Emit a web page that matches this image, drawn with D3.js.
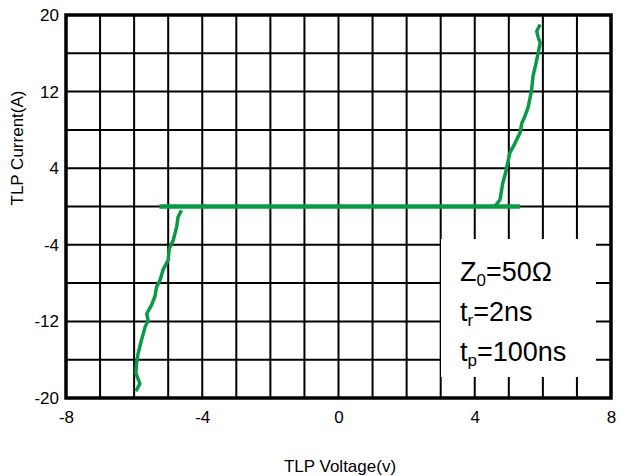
<!DOCTYPE html>
<html><head><meta charset="utf-8">
<script src="https://cdn.jsdelivr.net/npm/d3@7"></script>
<style>body{margin:0;background:#fff}svg{display:block;font-family:"Liberation Sans",Arial,sans-serif}</style>
</head><body><svg id="c" width="620" height="476"></svg>
<script>
const xTicks = [-8, -4, 0, 4, 8];
const yTicks = [-20, -12, -4, 4, 12, 20];
const xGrid = [-7,-6,-5,-4,-3,-2,-1,0,1,2,3,4,5,6,7];
const yGrid = [-16,-12,-8,-4,0,4,8,12,16];
const holdV = [-5.26, 5.33];
const holdI = [0, 0];
const posV = [4.59,4.74,4.82,4.91,5.03,5.18,5.33,5.38,5.47,5.57,5.62,5.67,5.71,5.80,5.86,5.92,5.86,5.82,5.92];
const posI = [0,0.7,2.4,3.6,5.6,6.6,7.7,8.7,9.4,10.4,11.3,12.2,13.6,15,16,17.1,17.7,18.3,19];
const negV = [-4.61,-4.71,-4.75,-4.85,-4.97,-5.0,-5.15,-5.24,-5.34,-5.39,-5.49,-5.63,-5.59,-5.68,-5.78,-5.88,-5.93,-5.95,-5.83,-5.95];
const negI = [-0.4,-1.1,-2.1,-3.5,-4.4,-5.6,-6.6,-7.7,-8.4,-9.4,-10.3,-11.2,-11.9,-12.6,-13.9,-15.3,-16.4,-17.4,-18.5,-19.3];
const legendLines = [["Z","0","=50Ω"],["t","r","=2ns"],["t","p","=100ns"]];

const svg = d3.select("#c");
const L=66,R=611,T=15,B=398;
const x = d3.scaleLinear().domain([-8,8]).range([L,R]);
const y = d3.scaleLinear().domain([-20,20]).range([B,T]);
const green = "#0a9a45";
const fmt = d => String(d);

const g = svg.append("g");
g.selectAll(".vg").data(xGrid).join("line").attr("x1",d=>x(d)).attr("x2",d=>x(d)).attr("y1",T).attr("y2",B).attr("stroke","#000").attr("stroke-width",2);
g.selectAll(".hg").data(yGrid).join("line").attr("y1",d=>y(d)).attr("y2",d=>y(d)).attr("x1",L).attr("x2",R).attr("stroke","#000").attr("stroke-width",2);

// legend box
const lx=441, ly=239, lw=155, lh=138;
svg.append("rect").attr("x",lx).attr("y",ly).attr("width",lw).attr("height",lh).attr("fill","#fff");

svg.append("rect").attr("x",L).attr("y",T).attr("width",R-L).attr("height",B-T).attr("fill","none").attr("stroke","#000").attr("stroke-width",3.5);

const xAxis = d3.axisBottom(x).tickValues(xTicks).tickSize(0).tickPadding(13).tickFormat(fmt);
const ax = svg.append("g").attr("transform",`translate(0,${B})`).call(xAxis);
ax.select(".domain").remove();
ax.selectAll("text").attr("font-size",17).attr("fill","#000").attr("font-family","Liberation Sans, Arial, sans-serif");
const yAxis = d3.axisLeft(y).tickValues(yTicks).tickSize(0).tickPadding(7).tickFormat(fmt);
const ay = svg.append("g").attr("transform",`translate(${L},0)`).call(yAxis);
ay.select(".domain").remove();
ay.selectAll("text").attr("font-size",17).attr("fill","#000").attr("font-family","Liberation Sans, Arial, sans-serif");

svg.append("text").attr("x",340).attr("y",472).attr("text-anchor","middle").attr("font-size",17).text("TLP Voltage(v)");
svg.append("text").attr("transform","translate(23,148) rotate(-90)").attr("text-anchor","middle").attr("font-size",17).text("TLP Current(A)");

const line = d3.line().x(d=>x(d[0])).y(d=>y(d[1])).curve(d3.curveLinear);
svg.append("path").datum(d3.zip(holdV,holdI)).attr("d",line).attr("stroke",green).attr("stroke-width",4.5).attr("fill","none");
svg.append("path").datum([[posV[0],0]].concat(d3.zip(posV,posI))).attr("d",line).attr("stroke",green).attr("stroke-width",3.5).attr("fill","none").attr("stroke-linejoin","round");
svg.append("path").datum(d3.zip(negV,negI)).attr("d",line).attr("stroke",green).attr("stroke-width",3.5).attr("fill","none").attr("stroke-linejoin","round");

const lt = svg.append("g").attr("font-size",27);
legendLines.forEach((p,i)=>{
  const t = lt.append("text").attr("x",460).attr("y",281+i*40);
  t.append("tspan").text(p[0]);
  t.append("tspan").attr("font-size",17).attr("dy",5).text(p[1]);
  t.append("tspan").attr("dy",-5).text(p[2]);
});
</script></body></html>
